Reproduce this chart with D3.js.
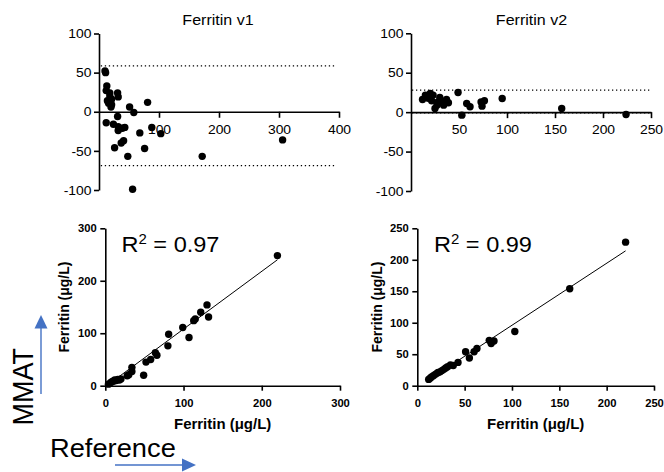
<!DOCTYPE html>
<html>
<head>
<meta charset="utf-8">
<script src="https://cdn.jsdelivr.net/npm/d3@7"></script>
<style>
  body { margin: 0; background: #fff; }
  svg { display: block; }
  text { font-family: Arial, "Liberation Sans", sans-serif; fill: #000; }
</style>
</head>
<body>
<svg id="chart" width="664" height="472"></svg>
<script>

// Bland-Altman, visit 1 (mean vs difference)
var baV1Mean = [10, 11, 13, 12, 18, 31, 32, 14, 21, 21, 20, 16, 18, 51, 81, 58, 31, 12, 24, 32, 43, 32, 39,
                68, 88, 103, 41, 37, 26, 76, 48, 56, 172, 306];
var baV1Diff = [52, 50, 33, 27, 24, 24, 19, 14, 16, 9, 6, 11, 20, 6, 12, -1, -6, -14, -16, -19, -20, -24, -21,
                -27, -20, -28, -37, -40, -46, -47, -57, -99, -57, -36];
var baV1Limits = [58.7, -68.9];

// Bland-Altman, visit 2
var baV2Mean = [15, 12, 20, 23, 21.5, 27, 30, 34, 37, 39, 49, 53, 58, 61.5, 73, 76.5, 74, 95, 157, 224,
                28, 18, 25, 32.5];
var baV2Diff = [21.6, 16, 23.7, 21.6, 14.4, 8.9, 18.7, 8.9, 16, 11.9, 25, -3.8, 11, 6.8, 13, 14.4, 7.6, 17.4, 4.7, -3,
                13, 17.6, 4.7, 12];
var baV2Limits = [28, -1];

var baYTicks = [-100, -50, 0, 50, 100];
var baV1XTicks = [100, 200, 300, 400];
var baV2XTicks = [50, 100, 150, 200, 250];

// correlation, visit 1 (reference vs MMAT)
var corrV1Ref  = [4, 7, 9, 11, 12, 14, 16, 18, 20, 28, 30, 34, 34, 49, 52, 58, 64, 66, 80, 81, 99, 107, 113, 115,
                  122, 130, 132, 220];
var corrV1Mmat = [3, 6, 8, 9, 11, 10, 12, 11, 13, 19, 21, 27, 35, 20, 45, 50, 63, 58, 76, 98, 111, 92, 124, 127,
                  140, 154, 131, 248];
var corrV1Fit = { slope: 1.1, intercept: -2, from: 2, to: 220 };
var corrV1Ticks = [0, 100, 200, 300];

// correlation, visit 2
var corrV2Ref  = [12, 13.5, 15, 17, 19, 21, 22, 24, 26, 28, 30, 32, 35, 38, 43, 51, 55, 60, 63, 76, 78, 81, 103, 161, 220];
var corrV2Mmat = [10, 12, 14, 16, 18, 20, 21, 22, 24, 26, 28, 30, 33, 32, 37, 54, 44, 54, 59, 72, 67, 71, 86, 154, 228];
var corrV2Fit = { slope: 0.985, intercept: -2.5, from: 11, to: 220 };
var corrV2Ticks = [0, 50, 100, 150, 200, 250];

var svg = d3.select('#chart');
var SX = 1.07;   // the picture is a little stretched sideways
var blue = '#4472C4';

function stretch(sel) {
   sel.selectAll('text').attr('transform', 'scale(' + SX + ',1)');
}

function putText(x, y, txt, size, weight, anchor, rot) {
   var tr = 'translate(' + x + ',' + y + ') scale(' + SX + ',1)' + (rot ? ' rotate(' + rot + ')' : '');
   return svg.append('text')
      .attr('transform', tr)
      .attr('text-anchor', anchor || 'start')
      .style('font-size', size + 'px')
      .style('font-weight', weight || 'normal')
      .text(txt);
}

function styleAxis(g, size, weight) {
   g.selectAll('path, line').attr('stroke', '#000').attr('stroke-width', 1.6);
   g.selectAll('text')
      .attr('fill', '#000')
      .style('font-family', 'Arial, "Liberation Sans", sans-serif')
      .style('font-size', size + 'px')
      .style('font-weight', weight);
   stretch(g);
}

function dots(g, xs, ys, x, y) {
   g.selectAll('.dot')
      .data(xs.map(function(d, i) { return [d, ys[i]]; }))
      .enter().append('circle')
      .attr('class', 'dot')
      .attr('cx', function(d) { return x(d[0]); })
      .attr('cy', function(d) { return y(d[1]); })
      .attr('r', 3.7)
      .attr('fill', '#000');
}

function blandPanel(p) {
   var x = d3.scaleLinear().domain(p.xDomain).range(p.xRange);
   var y = d3.scaleLinear().domain([-100, 100]).range(p.yRange);
   var g = svg.append('g');

   // limits of agreement
   g.selectAll('.loa')
      .data(p.limits)
      .enter().append('line')
      .attr('class', 'loa')
      .attr('x1', x(p.loaFrom)).attr('x2', x(p.loaTo))
      .attr('y1', function(d) { return y(d); })
      .attr('y2', function(d) { return y(d); })
      .attr('stroke', '#000')
      .attr('stroke-width', 1.3)
      .attr('stroke-dasharray', '1.3 2.7');

   var xa = g.append('g')
      .attr('transform', 'translate(0,' + y(0) + ')')
      .call(d3.axisBottom(x).tickValues(p.xTicks).tickSize(6).tickPadding(7).tickSizeOuter(0)
            .tickFormat(function(d) { return String(d); }));
   styleAxis(xa, 13, 'normal');

   var ya = g.append('g')
      .attr('transform', 'translate(' + x(0) + ',0)')
      .call(d3.axisLeft(y).tickValues(baYTicks).tickSize(5).tickPadding(2).tickSizeOuter(0)
            .tickFormat(function(d) { return String(d); }));
   styleAxis(ya, 13, 'normal');

   dots(g, p.xs, p.ys, x, y);

   putText(p.titleX, 25, p.title, 15, 'normal', 'middle');
}

function corrPanel(p) {
   var x = d3.scaleLinear().domain(p.domain).range(p.xRange);
   var y = d3.scaleLinear().domain(p.domain).range(p.yRange);
   var g = svg.append('g');

   var xa = g.append('g')
      .attr('transform', 'translate(0,' + p.yRange[0] + ')')
      .call(d3.axisBottom(x).tickValues(p.ticks).tickSize(5).tickPadding(8.5).tickSizeOuter(0));
   styleAxis(xa, 10.5, 'bold');

   var ya = g.append('g')
      .attr('transform', 'translate(' + p.xRange[0] + ',0)')
      .call(d3.axisLeft(y).tickValues(p.ticks).tickSize(5).tickPadding(3).tickSizeOuter(0));
   styleAxis(ya, 10.5, 'bold');

   var f = p.fit;
   g.append('line')
      .attr('x1', x(f.from)).attr('y1', y(f.slope * f.from + f.intercept))
      .attr('x2', x(f.to)).attr('y2', y(f.slope * f.to + f.intercept))
      .attr('stroke', '#000')
      .attr('stroke-width', 1);

   dots(g, p.xs, p.ys, x, y);

   var midX = (p.xRange[0] + p.xRange[1]) / 2;
   var midY = (p.yRange[0] + p.yRange[1]) / 2;
   putText(midX, 428.5, 'Ferritin (\u03bcg/L)', 14, 'bold', 'middle');
   putText(p.yTitleX, midY, 'Ferritin (\u03bcg/L)', 14, 'bold', 'middle', -90);

   var r = putText(p.rX, 251.7, '', 22, 'normal', 'start');
   r.append('tspan').text('R');
   r.append('tspan').attr('dy', -8).style('font-size', '14px').text('2');
   r.append('tspan').attr('dy', 8).text(' = ' + p.r2);
}

blandPanel({
   title: 'Ferritin v1', titleX: 218,
   xDomain: [0, 400], xRange: [99, 339], yRange: [190, 33.5],
   xTicks: baV1XTicks, limits: baV1Limits, loaFrom: 3, loaTo: 393,
   xs: baV1Mean, ys: baV1Diff
});

blandPanel({
   title: 'Ferritin v2', titleX: 531.5,
   xDomain: [0, 250], xRange: [411, 651], yRange: [191, 33.3],
   xTicks: baV2XTicks, limits: baV2Limits, loaFrom: 1, loaTo: 251,
   xs: baV2Mean, ys: baV2Diff
});

corrPanel({
   domain: [0, 300], xRange: [105.3, 340], yRange: [385.7, 228.3],
   ticks: corrV1Ticks, fit: corrV1Fit, xs: corrV1Ref, ys: corrV1Mmat,
   yTitleX: 68.5, rX: 121.5, r2: '0.97'
});

corrPanel({
   domain: [0, 250], xRange: [417.3, 654], yRange: [385.7, 228.3],
   ticks: corrV2Ticks, fit: corrV2Fit, xs: corrV2Ref, ys: corrV2Mmat,
   yTitleX: 381.5, rX: 434, r2: '0.99'
});

// side annotations
putText(33, 386.7, 'MMAT', 27, 'normal', 'middle', -90);
putText(50, 456.7, 'Reference', 25.5, 'normal', 'start');

svg.append('line')
   .attr('x1', 41).attr('y1', 394).attr('x2', 41).attr('y2', 326)
   .attr('stroke', blue).attr('stroke-width', 1.4);
svg.append('path')
   .attr('d', 'M41,315 L34.5,328.5 L47.5,328.5 Z')
   .attr('fill', blue);

svg.append('line')
   .attr('x1', 115).attr('y1', 465).attr('x2', 184).attr('y2', 465)
   .attr('stroke', blue).attr('stroke-width', 1.4);
svg.append('path')
   .attr('d', 'M196,465 L182,458.5 L182,471.5 Z')
   .attr('fill', blue);

</script>
</body>
</html>
